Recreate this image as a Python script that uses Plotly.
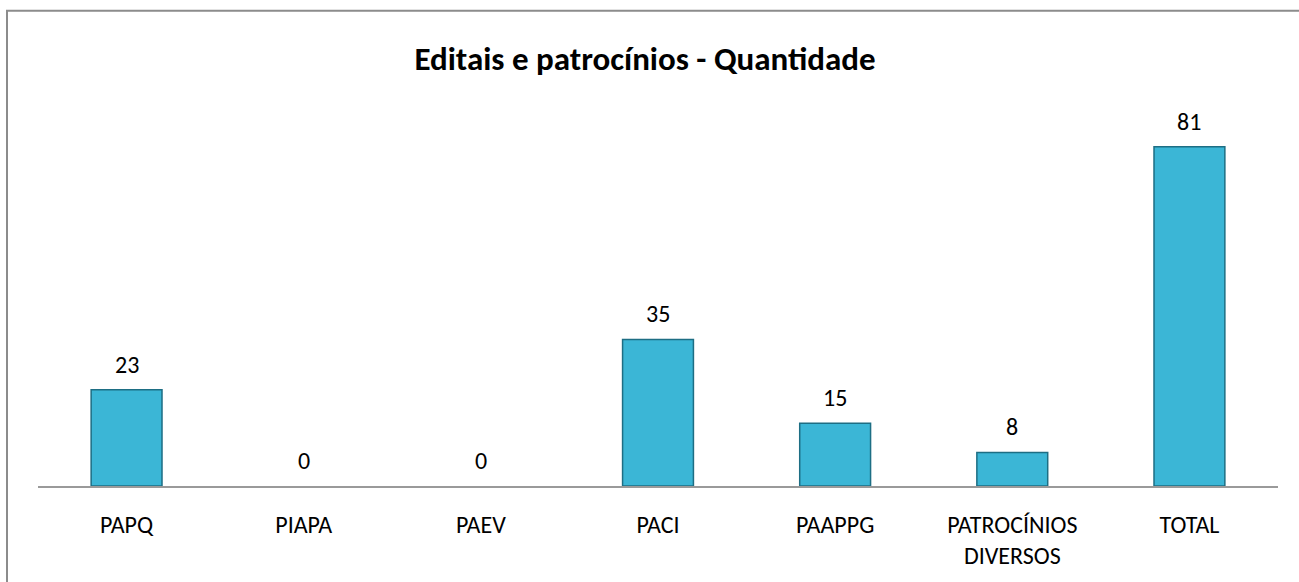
import plotly.graph_objects as go

categories = ["PAPQ", "PIAPA", "PAEV", "PACI", "PAAPPG", "PATROCÍNIOS<br>DIVERSOS", "TOTAL"]
values = [23, 0, 0, 35, 15, 8, 81]
title_text = "Editais e patrocínios - Quantidade"

W, H = 1299, 582
L, R, T, B = 38, 21, 105, 93
pw, ph = W - L - R, H - T - B
FONT = "Carlito, Calibri, Liberation Sans, sans-serif"

fig = go.Figure()
fig.add_trace(go.Bar(
    x=categories, y=values,
    width=0.4,
    marker=dict(color="#3BB6D6",
                line=dict(color="#1D6E84", width=[1.5 if v > 0 else 0 for v in values])),
    cliponaxis=False,
))

for c, v in zip(categories, values):
    fig.add_annotation(x=c, y=v, text=str(v), showarrow=False,
                       yanchor="bottom", yshift=9,
                       font=dict(family=FONT, size=24, color="#000"))

def px_x(p):
    return (p - L) / pw

def px_y(p):
    return (H - B - p) / ph

fig.add_shape(type="rect", xref="paper", yref="paper",
              x0=px_x(7), x1=px_x(W + 20), y0=px_y(10), y1=px_y(H + 20),
              line=dict(color="#8C8C8C", width=2), fillcolor="rgba(0,0,0,0)", layer="below")

fig.update_layout(
    width=W, height=H,
    margin=dict(l=L, r=R, t=T, b=B),
    paper_bgcolor="white", plot_bgcolor="white",
    showlegend=False,
    title=dict(text="<b>" + title_text + "</b>", x=645 / W, xanchor="center",
               y=1 - 58 / H, yanchor="middle",
               font=dict(family=FONT, size=33, color="#000")),
    font=dict(family=FONT, size=24, color="#000"),
)
fig.update_xaxes(showline=True, linecolor="#9A9A9A", linewidth=1.5, ticks="",
                 showgrid=False, tickfont=dict(size=24, color="#000"), ticklabelstandoff=16)
fig.update_yaxes(range=[0, ph / (342 / 81)], visible=False, showgrid=False, zeroline=False)

fig.write_html("out.html", config={"displayModeBar": False},
               post_script="document.body.style.margin='0';")
